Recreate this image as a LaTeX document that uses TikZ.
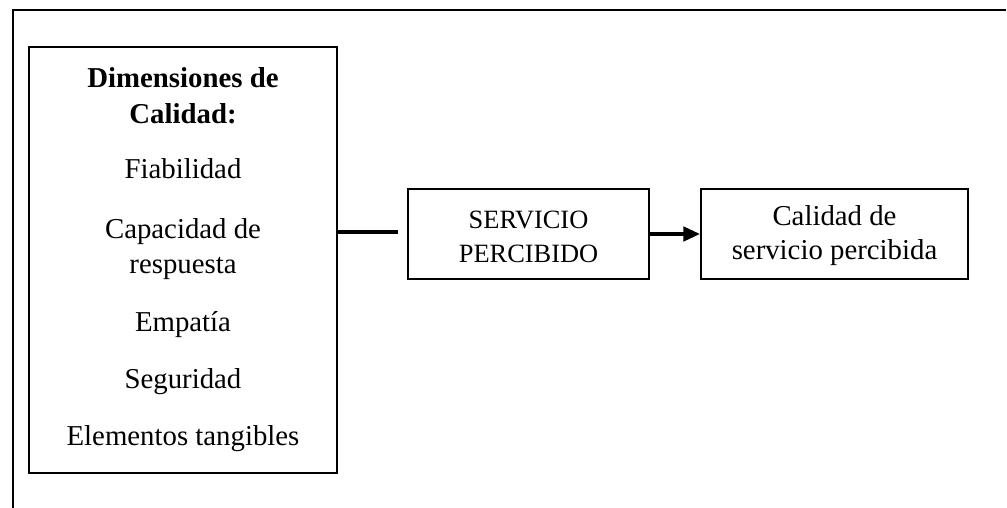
\documentclass[tikz,border=0pt]{standalone}
\usepackage{fontspec}
\setmainfont{Liberation Serif}
\usepackage{tikz}
\usetikzlibrary{arrows.meta,positioning}

\begin{document}
\begin{tikzpicture}[x=0.4167pt,y=-0.4167pt,
    box/.style={draw,line width=0.75pt,inner sep=0pt,align=center},
    txt/.style={anchor=base,inner sep=0pt,font=\fontsize{12}{14}\selectfont},
    link/.style={line width=1.5pt}]
  \useasboundingbox (0,0) rectangle (1007,508);
  % open frame
  \draw[line width=0.9pt] (13,508) -- (13,10) -- (1006,10);
  % dimensions box
  \node[box,minimum width=128.3pt,minimum height=177.5pt] (dim) at (183,260) {};
  \foreach \t/\y [count=\i] in {{\textbf{Dimensiones de}}/88,{\textbf{Calidad:}}/124,
      Fiabilidad/179,Capacidad de/239,respuesta/274,Empat\'ia/332,
      Seguridad/389,Elementos tangibles/446} {
    \node[txt] (d\i) at (183,\y) {\t};
  }
  % right boxes
  \node[box,minimum width=100.4pt,minimum height=37.5pt,
        font=\fontsize{11}{14.2}\selectfont] (serv) at (528.5,234) {\strut SERVICIO\\PERCIBIDO};
  \node[box,minimum width=111.3pt,minimum height=37.5pt,
        font=\fontsize{12}{13.8}\selectfont] (cal) at (834.5,234) {\strut Calidad de\\servicio percibida};
  % connectors
  \coordinate (gap) at (398,232);
  \draw[link] (dim.east |- gap) -- (gap);
  \draw[link,-{Triangle[length=7pt,width=6pt]}] (serv) -- (cal);
\end{tikzpicture}
\end{document}
